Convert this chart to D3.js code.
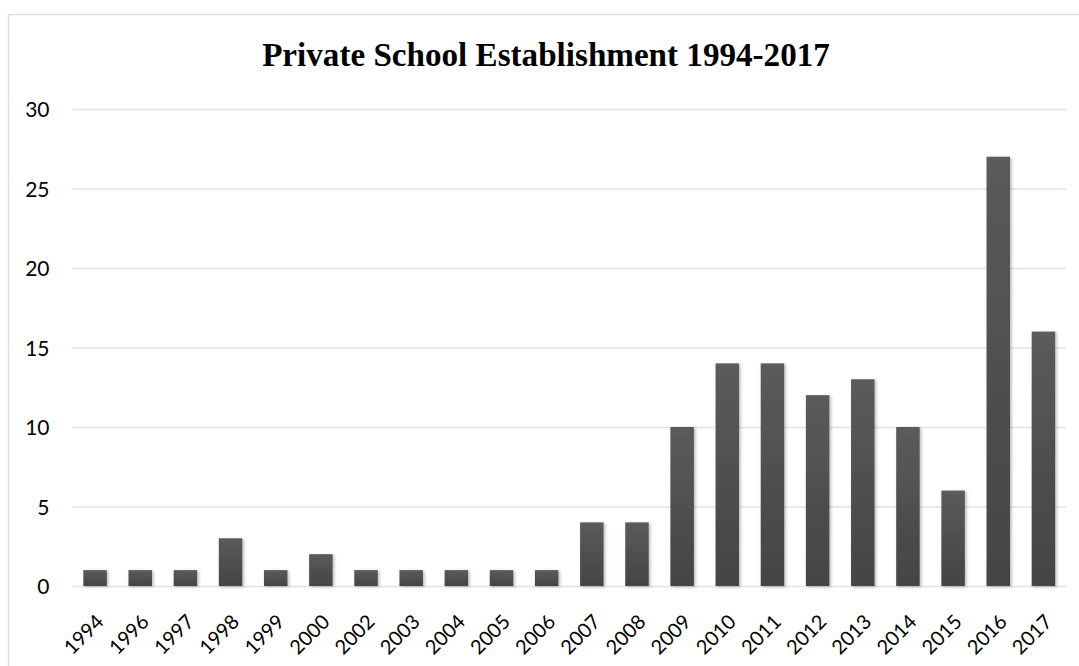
<!DOCTYPE html>
<html>
<head>
<meta charset="utf-8">
<script src="https://cdn.jsdelivr.net/npm/d3@7"></script>
<style>
  html, body { margin: 0; padding: 0; background: #ffffff; }
  svg { display: block; }
</style>
</head>
<body>
<svg id="chart" width="1079" height="666"></svg>
<script>
// Number of private schools established per year
const years = ["1994","1996","1997","1998","1999","2000","2002","2003","2004","2005","2006",
               "2007","2008","2009","2010","2011","2012","2013","2014","2015","2016","2017"];
const schools = [1,1,1,3,1,2,1,1,1,1,1,4,4,10,14,14,12,13,10,6,27,16];
const yTicks = [0,5,10,15,20,25,30];
const titleText = "Private School Establishment 1994-2017";

const W = 1079, H = 666;
const margin = { left: 72.5, right: 13, top: 109, bottom: 80 };
const svg = d3.select("#chart");

const defs = svg.append("defs");
const grad = defs.append("linearGradient")
  .attr("id", "barFill").attr("x1", 0).attr("y1", 0).attr("x2", 0).attr("y2", 1);
grad.append("stop").attr("offset", "0%").attr("stop-color", "#5b5b5b");
grad.append("stop").attr("offset", "100%").attr("stop-color", "#444444");

const shadow = defs.append("filter").attr("id", "barShadow")
  .attr("x", "-30%").attr("y", "-10%").attr("width", "160%").attr("height", "120%");
shadow.append("feDropShadow")
  .attr("dx", 1.5).attr("dy", 1).attr("stdDeviation", 1.6)
  .attr("flood-color", "#000").attr("flood-opacity", 0.28);

// Chart frame
svg.append("rect")
  .attr("x", 8.5).attr("y", 14.5).attr("width", W + 20).attr("height", H + 20)
  .attr("fill", "#ffffff").attr("stroke", "#d6e1f2").attr("stroke-width", 1.5);

const x = d3.scaleBand()
  .domain(years)
  .range([margin.left, W - margin.right])
  .paddingInner(0.48).paddingOuter(0.24);

const y = d3.scaleLinear()
  .domain([0, 30])
  .range([586, 109]);

const labelFont = "Lato, 'Open Sans', sans-serif";

// Gridlines and value labels
const yAxis = d3.axisLeft(y)
  .tickValues(yTicks)
  .tickSize(-(W - margin.right - margin.left))
  .tickPadding(23)
  .tickFormat(d3.format("d"));

const gy = svg.append("g")
  .attr("transform", `translate(${margin.left},0)`)
  .call(yAxis);
gy.select(".domain").remove();
gy.selectAll(".tick line").attr("stroke", "#d9e4f4").attr("stroke-width", 1.5);
gy.selectAll(".tick text")
  .attr("fill", "#000").attr("font-family", labelFont)
  .attr("font-size", 21).attr("dy", "0.36em");

// Bars
svg.append("g").selectAll("rect")
  .data(years.map((yr, i) => ({ yr, v: schools[i] })))
  .join("rect")
  .attr("x", d => x(d.yr))
  .attr("y", d => y(d.v))
  .attr("width", x.bandwidth())
  .attr("height", d => y(0) - y(d.v))
  .attr("fill", "url(#barFill)")
  .attr("filter", "url(#barShadow)");

// Year labels
const xAxis = d3.axisBottom(x).tickSize(0).tickPadding(0);
const gx = svg.append("g")
  .attr("transform", `translate(0,${y(0)})`)
  .call(xAxis);
gx.select(".domain").remove();
gx.selectAll(".tick text")
  .attr("fill", "#000").attr("font-family", labelFont)
  .attr("font-size", 20)
  .attr("text-anchor", "end")
  .attr("dy", 0)
  .attr("transform", "translate(10,37) rotate(-45)");

// Title
const title = svg.append("text")
  .attr("x", 546).attr("y", 66)
  .attr("text-anchor", "middle")
  .attr("font-family", "'Liberation Serif', 'DejaVu Serif', serif")
  .attr("font-weight", "bold")
  .attr("font-size", 33)
  .attr("fill", "#000")
  .text(titleText);
const tw = title.node().getComputedTextLength();
title.attr("font-size", 33 * 568 / tw);
</script>
</body>
</html>
